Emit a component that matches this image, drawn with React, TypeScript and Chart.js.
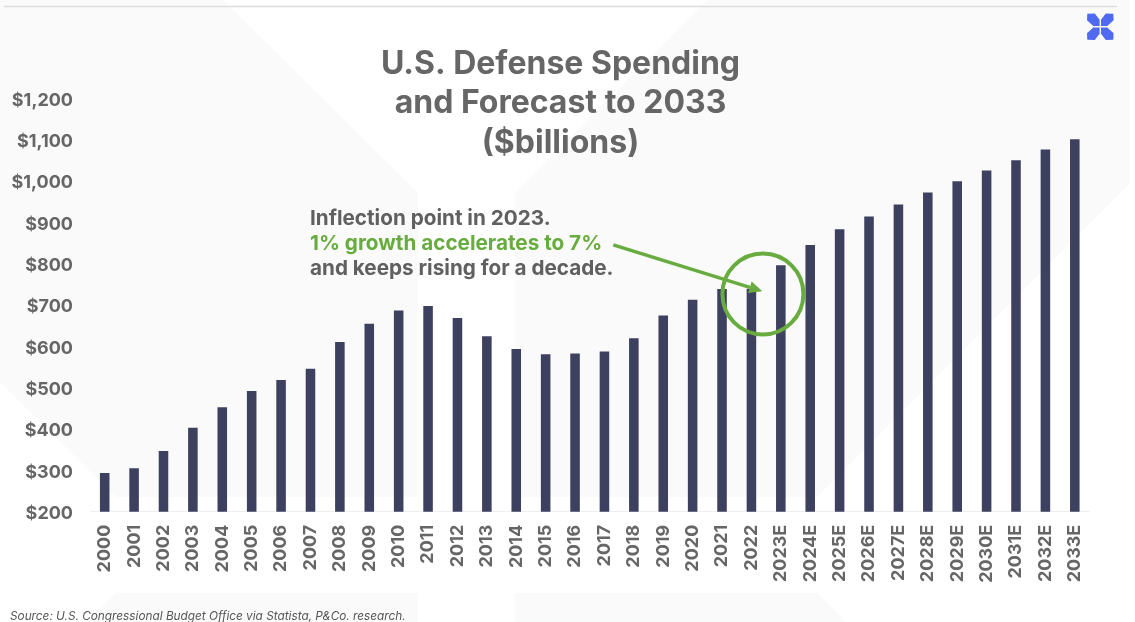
import React, { useEffect, useRef } from "react";
import { Chart, registerables } from "chart.js";

Chart.register(...registerables);

const years = [
  "2000", "2001", "2002", "2003", "2004", "2005", "2006", "2007", "2008", "2009", "2010", "2011",
  "2012", "2013", "2014", "2015", "2016", "2017", "2018", "2019", "2020", "2021", "2022",
  "2023E", "2024E", "2025E", "2026E", "2027E", "2028E", "2029E", "2030E", "2031E", "2032E", "2033E",
];
const spending = [
  294, 305, 347, 403, 453, 492, 519, 546, 611, 655, 687, 698,
  669, 625, 594, 581, 583, 588, 620, 675, 713, 739, 740,
  797, 846, 884, 915, 944, 973, 1000, 1026, 1051, 1077, 1102,
];
const titleLines = ["U.S. Defense Spending", "and Forecast to 2033", "($billions)"];
const calloutLines = [
  { text: "Inflection point in 2023.", color: "#606060" },
  { text: "1% growth accelerates to 7%", color: "#68AC3F" },
  { text: "and keeps rising for a decade.", color: "#606060" },
];
const sourceNote = "Source: U.S. Congressional Budget Office via Statista, P&Co. research.";

// Callout geometry expressed on the chart's own axes (category index, $ billions).
const ringCenter = { index: 22.39, value: 727 };
const arrowTail = { index: 17.3, value: 846 };
const arrowTip = { index: 22.37, value: 734 };

const INK = "#666666";
const GREEN = "#68AC3F";
const BAR = "#3D405F";

const overlay = {
  id: "overlay",
  afterDatasetsDraw(chart: any) {
    const { ctx, scales } = chart;
    const px = (p: { index: number; value: number }) => ({
      x: scales.x.getPixelForValue(p.index),
      y: scales.y.getPixelForValue(p.value),
    });
    ctx.save();

    ctx.textBaseline = "middle";
    ctx.textAlign = "center";
    ctx.fillStyle = INK;
    ctx.font = "700 32px Inter";
    titleLines.forEach((line, i) => ctx.fillText(line, 560.5, 64 + i * 39.5));

    ctx.textAlign = "left";
    ctx.font = "700 20.7px Inter";
    calloutLines.forEach((line, i) => {
      ctx.fillStyle = line.color;
      ctx.fillText(line.text, 310, 219 + i * 25);
    });

    ctx.fillStyle = "#555555";
    ctx.font = "italic 400 11.8px Inter";
    ctx.fillText(sourceNote, 10, 616);

    ctx.strokeStyle = GREEN;
    ctx.fillStyle = GREEN;
    ctx.lineWidth = 4;
    const ring = px(ringCenter);
    ctx.beginPath();
    ctx.arc(ring.x, ring.y, 40.5, 0, Math.PI * 2);
    ctx.stroke();

    const tail = px(arrowTail);
    const tip = px(arrowTip);
    const angle = Math.atan2(tip.y - tail.y, tip.x - tail.x);
    const headLen = 13;
    const headHalf = 6;
    const neck = { x: tip.x - headLen * Math.cos(angle), y: tip.y - headLen * Math.sin(angle) };
    ctx.lineWidth = 3.5;
    ctx.beginPath();
    ctx.moveTo(tail.x, tail.y);
    ctx.lineTo(neck.x, neck.y);
    ctx.stroke();
    ctx.beginPath();
    ctx.moveTo(tip.x, tip.y);
    ctx.lineTo(neck.x + headHalf * Math.sin(angle), neck.y - headHalf * Math.cos(angle));
    ctx.lineTo(neck.x - headHalf * Math.sin(angle), neck.y + headHalf * Math.cos(angle));
    ctx.closePath();
    ctx.fill();

    ctx.restore();
  },
};

function Backdrop() {
  const leaf = "M-13,-13 L-5.5,-13.3 L-0.7,-7 L-0.7,-0.7 L-7,-0.7 L-13.3,-6.5 Z";
  return (
    <svg width={1135} height={622} style={{ position: "absolute", left: 0, top: 0 }}>
      <g fill="#FAFAFA">
        <polygon points="0,0 223,0 418,193 418,497 116,497 0,382" />
        <polygon points="515,193 707,0 1130,0 1130,183 817,497 515,497" />
        <polygon points="116,593 418,593 418,622 87,622" />
        <polygon points="515,593 817,593 846,622 515,622" />
      </g>
      <line x1={4} x2={1117} y1={6.5} y2={6.5} stroke="#DDDDDD" strokeWidth={1.5} />
      <g fill="#4F6AF0" transform="translate(1100.3 26.7)">
        <path d={leaf} />
        <path d={leaf} transform="scale(-1 1)" />
        <path d={leaf} transform="scale(1 -1)" />
        <path d={leaf} transform="scale(-1 -1)" />
      </g>
    </svg>
  );
}

export default function App() {
  const canvasRef = useRef<HTMLCanvasElement | null>(null);

  useEffect(() => {
    const chart = new Chart(canvasRef.current as HTMLCanvasElement, {
      type: "bar",
      data: {
        labels: years,
        datasets: [{ data: spending, backgroundColor: BAR, barPercentage: 0.325, categoryPercentage: 1 }],
      },
      plugins: [overlay],
      options: {
        responsive: false,
        animation: false,
        layout: { padding: { top: 98.7, right: 45.5, left: 0, bottom: 0 } },
        plugins: { legend: { display: false }, title: { display: false }, tooltip: { enabled: false } },
        scales: {
          x: {
            grid: { display: false, drawTicks: false },
            border: { color: "#EEEEF0", width: 1 },
            afterFit: (s: any) => { s.height = 110.3; },
            ticks: {
              autoSkip: false,
              minRotation: 90,
              maxRotation: 90,
              padding: 13,
              color: INK,
              font: { family: "Inter", size: 18, weight: 700 },
            },
          },
          y: {
            min: 200,
            max: 1200,
            grid: { display: false, drawTicks: false },
            border: { display: false },
            afterFit: (s: any) => { s.width = 90; },
            ticks: {
              stepSize: 100,
              padding: 17,
              labelOffset: 1.7,
              color: INK,
              font: { family: "Inter", size: 18, weight: 700 },
              callback: (v: any) => "$" + Number(v).toLocaleString("en-US"),
            },
          },
        },
      },
    });
    return () => chart.destroy();
  }, []);

  return (
    <div style={{ position: "absolute", left: 0, top: 0, width: 1135, height: 622, background: "#FFFFFF", overflow: "hidden" }}>
      <Backdrop />
      <canvas ref={canvasRef} width={1135} height={622} style={{ position: "absolute", left: 0, top: 0 }} />
    </div>
  );
}
